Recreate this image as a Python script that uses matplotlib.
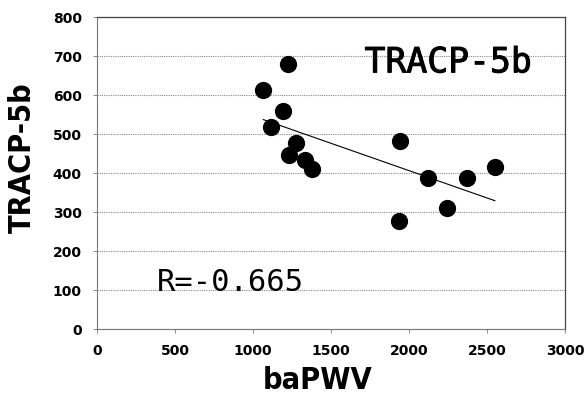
import numpy as np
import matplotlib.pyplot as plt
import matplotlib.patheffects as pe
from matplotlib import font_manager

# data
bapwv = [1066, 1221, 1195, 1118, 1278, 1233, 1336, 1375,
         1940, 1934, 2120, 2242, 2370, 2550]
tracp = [613, 679, 559, 518, 477, 446, 433, 410,
         482, 277, 387, 310, 387, 415]
r_text = "R=-0.665"
x_ticks = [0, 500, 1000, 1500, 2000, 2500, 3000]
y_ticks = [0, 100, 200, 300, 400, 500, 600, 700, 800]

# a condensed bold face for the axis titles, if one is installed
label_fp = None
for f in font_manager.fontManager.ttflist:
    if "Condensed" in f.fname and "Bold" in f.fname and "Oblique" not in f.fname \
            and "Italic" not in f.fname and "Mono" not in f.fname:
        label_fp = f.fname
        break

if label_fp is not None:
    label_kw = dict(fontproperties=font_manager.FontProperties(fname=label_fp, size=22))
else:
    label_kw = dict(family="DejaVu Sans", fontweight="bold", fontsize=19)

x = np.array(bapwv, dtype=float)
y = np.array(tracp, dtype=float)

slope, intercept = np.polyfit(x, y, 1)
xg = np.array([x.min(), x.max()])
yg = intercept + slope * xg

fig = plt.figure(figsize=(5.88, 3.98), dpi=100)
ax = fig.add_axes([0.165, 0.173, 0.796, 0.784])

ax.set_xlim(0, 3000)
ax.set_ylim(0, 800)
ax.set_xticks(x_ticks)
ax.set_yticks(y_ticks)

ax.yaxis.grid(True, linestyle=(0, (1, 1)), color="#888888", linewidth=0.8)
ax.set_axisbelow(True)

for side in ["left", "bottom"]:
    ax.spines[side].set_linestyle((0, (1, 1)))
    ax.spines[side].set_color("#777777")
    ax.spines[side].set_linewidth(0.8)
for side in ["top", "right"]:
    ax.spines[side].set_color("#444444")
    ax.spines[side].set_linewidth(0.9)

ax.tick_params(axis="both", length=3, width=0.6, color="#777777",
               labelsize=10, pad=8)
for lab in ax.get_xticklabels() + ax.get_yticklabels():
    lab.set_fontweight("bold")

ax.plot(xg, yg, color="black", linewidth=0.8)

ax.scatter(x, y, s=130, color="black", zorder=3)

thick = [pe.withStroke(linewidth=0.7, foreground="black")]
ax.text(0.75, 0.855, "TRACP-5b", transform=ax.transAxes,
        family="DejaVu Sans Mono", fontsize=25, ha="center", va="center",
        path_effects=thick)
ax.text(0.128, 0.15, r_text, transform=ax.transAxes,
        family="DejaVu Sans Mono", fontsize=22, ha="left", va="center")

ax.set_xlabel("baPWV", **label_kw)
ax.set_ylabel("TRACP-5b", **label_kw)
ax.xaxis.set_label_coords(0.472, -0.118, transform=ax.transAxes)
ax.yaxis.set_label_coords(-0.128, 0.55, transform=ax.transAxes)

fig.savefig("out.png", dpi=100)
